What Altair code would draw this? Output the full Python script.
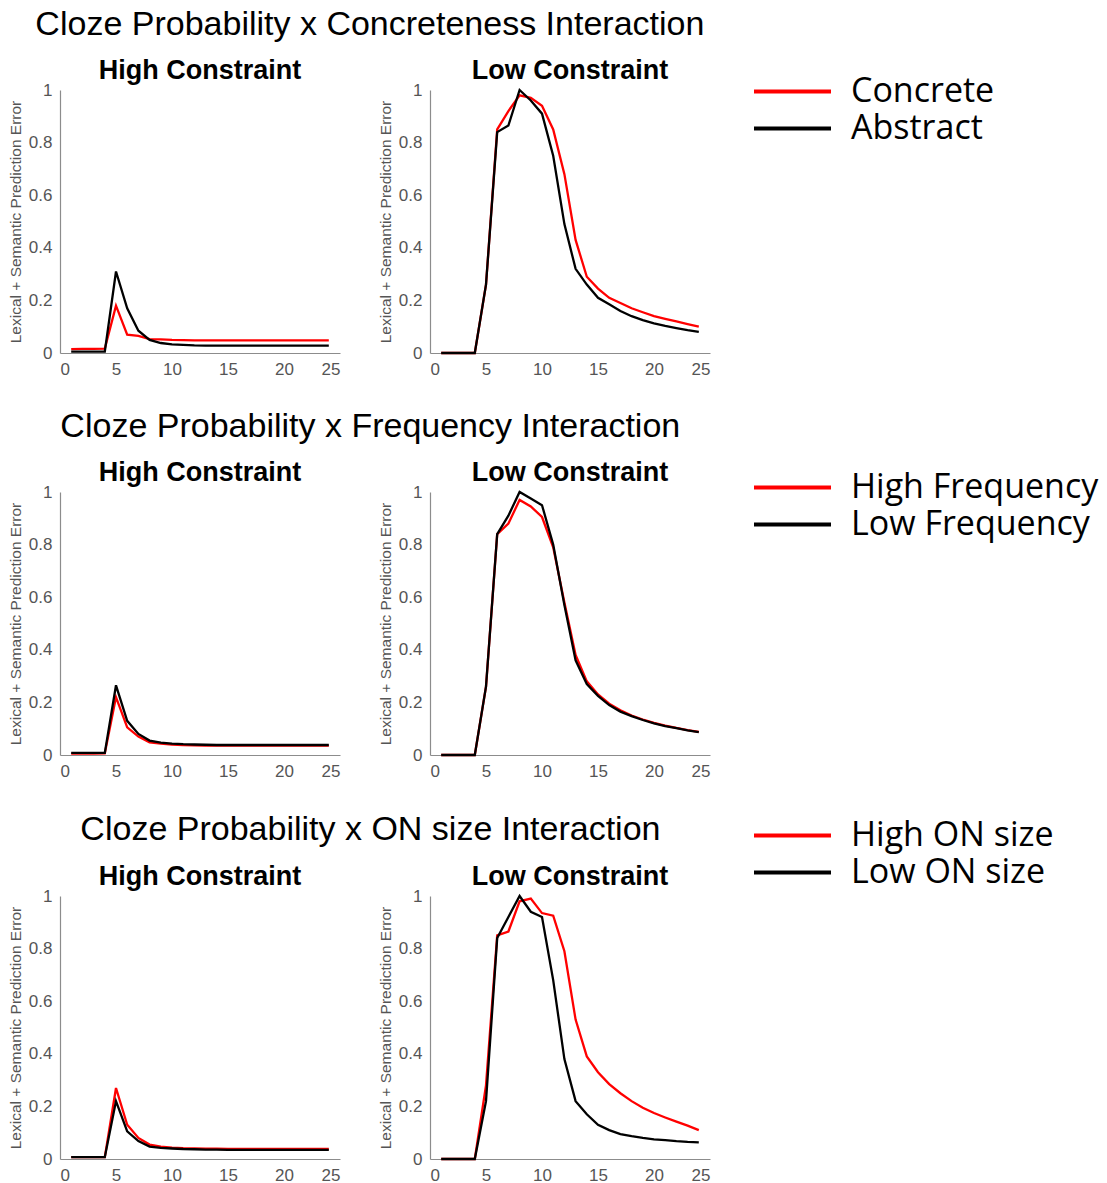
import altair as alt
import pandas as pd

x_vals = list(range(1, 25))
x_ticks = [0, 5, 10, 15, 20, 25]
y_ticks = [0, 0.2, 0.4, 0.6, 0.8, 1]

row_titles = [
    "Cloze Probability x Concreteness Interaction",
    "Cloze Probability x Frequency Interaction",
    "Cloze Probability x ON size Interaction",
]
panel_titles = ["High Constraint", "Low Constraint"]
series_names = [
    ["Concrete", "Abstract"],
    ["High Frequency", "Low Frequency"],
    ["High ON size", "Low ON size"],
]

# Row 1: Concreteness
r1_hc_red = [0.015, 0.016, 0.016, 0.017, 0.18, 0.07, 0.065, 0.053, 0.052, 0.050, 0.049, 0.048,
             0.048, 0.048, 0.048, 0.048, 0.048, 0.048, 0.048, 0.048, 0.048, 0.048, 0.048, 0.048]
r1_hc_black = [0.005, 0.005, 0.005, 0.005, 0.31, 0.17, 0.085, 0.05, 0.038, 0.033, 0.031, 0.029,
               0.028, 0.028, 0.028, 0.028, 0.028, 0.028, 0.028, 0.028, 0.028, 0.028, 0.028, 0.028]
r1_lc_red = [0, 0, 0, 0, 0.26, 0.85, 0.92, 0.98, 0.97, 0.94, 0.85, 0.68,
             0.43, 0.29, 0.245, 0.21, 0.19, 0.17, 0.155, 0.14, 0.13, 0.12, 0.11, 0.10]
r1_lc_black = [0, 0, 0, 0, 0.26, 0.84, 0.865, 1.0, 0.96, 0.91, 0.75, 0.49,
               0.32, 0.26, 0.21, 0.185, 0.16, 0.14, 0.125, 0.113, 0.103, 0.095, 0.087, 0.08]

# Row 2: Frequency
r2_hc_red = [0.005, 0.005, 0.005, 0.006, 0.22, 0.105, 0.07, 0.048, 0.043, 0.040, 0.038, 0.037,
             0.036, 0.036, 0.036, 0.036, 0.036, 0.036, 0.036, 0.036, 0.036, 0.036, 0.036, 0.036]
r2_hc_black = [0.008, 0.008, 0.008, 0.008, 0.265, 0.13, 0.08, 0.055, 0.047, 0.043, 0.041, 0.040,
               0.039, 0.038, 0.038, 0.038, 0.038, 0.038, 0.038, 0.038, 0.038, 0.038, 0.038, 0.038]
r2_lc_red = [0, 0, 0, 0, 0.26, 0.84, 0.88, 0.97, 0.945, 0.905, 0.79, 0.58,
             0.38, 0.28, 0.23, 0.195, 0.17, 0.15, 0.135, 0.122, 0.112, 0.103, 0.095, 0.088]
r2_lc_black = [0, 0, 0, 0, 0.26, 0.84, 0.91, 1.0, 0.975, 0.95, 0.80, 0.57,
               0.36, 0.27, 0.225, 0.19, 0.165, 0.148, 0.133, 0.12, 0.11, 0.102, 0.094, 0.087]

# Row 3: ON size
r3_hc_red = [0.007, 0.007, 0.007, 0.007, 0.27, 0.13, 0.08, 0.055, 0.047, 0.043, 0.041, 0.040,
             0.039, 0.039, 0.038, 0.038, 0.038, 0.038, 0.038, 0.038, 0.038, 0.038, 0.038, 0.038]
r3_hc_black = [0.007, 0.007, 0.007, 0.007, 0.22, 0.105, 0.068, 0.047, 0.042, 0.040, 0.038, 0.037,
               0.036, 0.036, 0.035, 0.035, 0.035, 0.035, 0.035, 0.035, 0.035, 0.035, 0.035, 0.035]
r3_lc_red = [0, 0, 0, 0, 0.28, 0.85, 0.865, 0.98, 0.99, 0.935, 0.925, 0.79,
             0.53, 0.39, 0.33, 0.285, 0.25, 0.22, 0.195, 0.175, 0.158, 0.142, 0.127, 0.11]
r3_lc_black = [0, 0, 0, 0, 0.22, 0.84, 0.92, 1.0, 0.94, 0.92, 0.68, 0.38,
               0.22, 0.17, 0.13, 0.11, 0.095, 0.087, 0.08, 0.075, 0.072, 0.068, 0.065, 0.063]

rows_data = [
    [(r1_hc_red, r1_hc_black), (r1_lc_red, r1_lc_black)],
    [(r2_hc_red, r2_hc_black), (r2_lc_red, r2_lc_black)],
    [(r3_hc_red, r3_hc_black), (r3_lc_red, r3_lc_black)],
]
legend_offsets_y = [-17, -23, -79]
row_title_dx = [27, 52, 72]
row_title_offset = [14.7, 14.7, -29.5]

AX_GRAY = "#555555"


def panel(title, names, red_vals, black_vals, legend):
    df = pd.DataFrame({
        "x": x_vals + x_vals,
        "y": list(red_vals) + list(black_vals),
        "series": [names[0]] * len(x_vals) + [names[1]] * len(x_vals),
    })
    return alt.Chart(df).mark_line(strokeWidth=2.3).encode(
        x=alt.X("x:Q", scale=alt.Scale(domain=[0, 25], nice=False),
                axis=alt.Axis(values=x_ticks, title=None)),
        y=alt.Y("y:Q", scale=alt.Scale(domain=[0, 1], nice=False),
                axis=alt.Axis(values=y_ticks, format="~g",
                              title="Lexical + Semantic Prediction Error")),
        color=alt.Color("series:N",
                        scale=alt.Scale(domain=names, range=["#ff0000", "#000000"]),
                        sort=names, legend=legend),
        order=alt.Order("series:N", sort="descending"),
    ).properties(
        width=280, height=263,
        title=alt.TitleParams(title, fontSize=27, fontWeight="bold",
                              font="Liberation Sans", color="#000000",
                              anchor="middle", offset=-3.8),
    )


rows = []
for i in range(3):
    names = series_names[i]
    leg = alt.Legend(
        title=None, orient="none", legendX=692, legendY=legend_offsets_y[i],
        symbolType="stroke", symbolSize=5929, symbolStrokeWidth=4,
        labelFontSize=34, labelFont="Open Sans", labelColor="#000000",
        labelOffset=18, clipHeight=37, rowPadding=0, padding=0, labelLimit=400,
    )
    (hr, hb), (lr, lb) = rows_data[i]
    p1 = panel(panel_titles[0], names, hr, hb, leg)
    p2 = panel(panel_titles[1], names, lr, lb, leg)
    row = alt.hconcat(p1, p2, spacing=90, bounds="flush").properties(
        title=alt.TitleParams(row_titles[i], fontSize=34, fontWeight="normal",
                              font="Liberation Sans", color="#000000",
                              anchor="start", dx=row_title_dx[i],
                              offset=row_title_offset[i])
    )
    rows.append(row)

chart = alt.vconcat(*rows, spacing=33).resolve_scale(
    color="independent"
).properties(
    padding={"left": 0, "top": 0, "right": 0, "bottom": 0}
).configure_view(stroke=None).configure_axis(
    domainColor="#8c8c8c", domainWidth=1.2, grid=False, ticks=False, tickSize=0,
    labelFont="Liberation Sans", labelFontSize=17, labelColor=AX_GRAY, labelPadding=8,
    titleFont="Liberation Sans", titleFontSize=15.5, titleFontWeight="normal",
    titleColor=AX_GRAY, titlePadding=5,
)

chart.save("out.html", embed_options={"renderer": "svg", "actions": False})
